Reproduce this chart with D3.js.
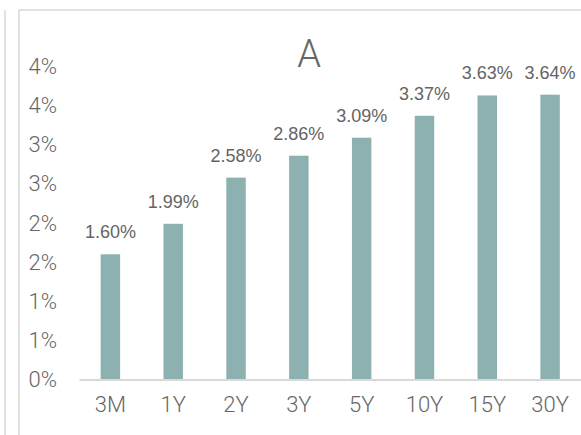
<!DOCTYPE html>
<html>
<head>
<meta charset="utf-8">
<script src="https://cdn.jsdelivr.net/npm/d3@7"></script>
<style>
  html, body { margin: 0; padding: 0; background: #fff; }
  svg { display: block; }
</style>
</head>
<body>
<svg id="chart" width="581" height="435"></svg>
<script>
const tenors = ['3M', '1Y', '2Y', '3Y', '5Y', '10Y', '15Y', '30Y']
const yields = [1.60, 1.99, 2.58, 2.86, 3.09, 3.37, 3.63, 3.64]
const yTicks = [0, 0.5, 1, 1.5, 2, 2.5, 3, 3.5, 4]
const title = 'A'

const svg = d3.select('#chart')
const light = 'Roboto, "Liberation Sans", sans-serif'
const plain = '"Liberation Sans", Arial, sans-serif'

// frame lines of the neighbouring chart and this one
svg.append('line')
  .attr('x1', 5).attr('x2', 5).attr('y1', 10).attr('y2', 435)
  .attr('stroke', '#d9d9d9').attr('stroke-width', 1.5)
svg.append('path')
  .attr('d', 'M19,435 V10 H581')
  .attr('fill', 'none')
  .attr('stroke', '#d9d9d9').attr('stroke-width', 1.5)

const plotLeft = 79
const plotRight = 581.5
const plotBottom = 379.5
const plotTop = 66.5

const x = d3.scaleBand()
  .domain(tenors)
  .range([plotLeft, plotRight])
  .padding(0)

const y = d3.scaleLinear()
  .domain([0, 4])
  .range([plotBottom, plotTop])

// y labels (Excel style rounding to whole percent)
const yAxis = svg.append('g')
  .attr('transform', `translate(${plotLeft}, 0)`)
  .call(d3.axisLeft(y)
    .tickValues(yTicks)
    .tickSize(0)
    .tickPadding(22)
    .tickFormat(d => Math.round(d + 1e-9) + '%'))
yAxis.select('.domain').remove()
yAxis.selectAll('text')
  .attr('font-family', light)
  .attr('font-weight', 300)
  .attr('font-size', 22)
  .attr('fill', '#666')

const barW = x.step() * 0.31

svg.selectAll('rect.bar')
  .data(yields)
  .enter()
  .append('rect')
  .attr('class', 'bar')
  .attr('x', (d, i) => x(tenors[i]) + x.bandwidth() / 2 - barW / 2)
  .attr('y', d => y(d))
  .attr('width', barW)
  .attr('height', d => plotBottom - y(d))
  .attr('fill', '#8db1b1')

// baseline
const xAxis = svg.append('g')
  .attr('transform', `translate(0, ${plotBottom})`)
  .call(d3.axisBottom(x).tickSize(0).tickPadding(17))
xAxis.select('.domain')
  .attr('stroke', '#d9d9d9')
  .attr('stroke-width', 2)
xAxis.selectAll('text')
  .attr('font-family', light)
  .attr('font-weight', 300)
  .attr('font-size', 22)
  .attr('fill', '#666')

svg.selectAll('text.val')
  .data(yields)
  .enter()
  .append('text')
  .attr('class', 'val')
  .attr('x', (d, i) => x(tenors[i]) + x.bandwidth() / 2)
  .attr('y', d => y(d) - 16)
  .attr('text-anchor', 'middle')
  .attr('font-family', plain)
  .attr('font-size', 18)
  .attr('fill', '#646464')
  .text(d => d.toFixed(2) + '%')

svg.append('text')
  .attr('x', 309)
  .attr('y', 66.5)
  .attr('text-anchor', 'middle')
  .attr('font-family', light)
  .attr('font-weight', 300)
  .attr('font-size', 38)
  .attr('fill', '#666')
  .text(title)
</script>
</body>
</html>
